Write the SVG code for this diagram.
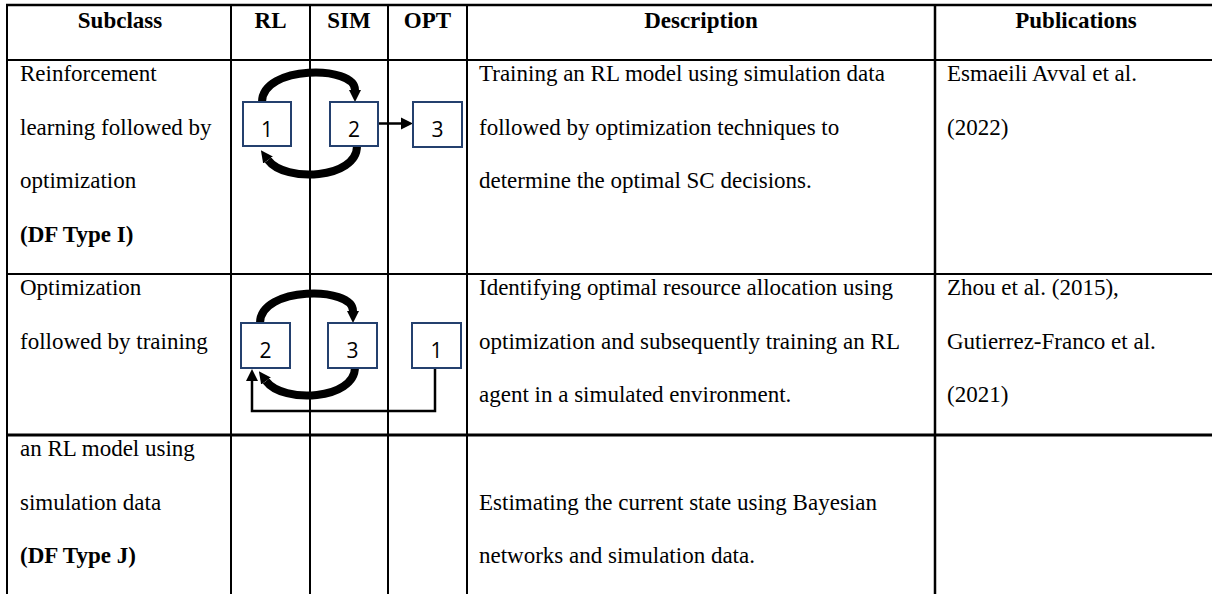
<svg xmlns="http://www.w3.org/2000/svg" width="1212" height="594" viewBox="0 0 1212 594">
<style>
.t{font-family:"Liberation Serif","Times New Roman",serif;font-size:23px;fill:#000}
.b{font-weight:bold}
.h{font-family:"Liberation Serif","Times New Roman",serif;font-size:23px;font-weight:bold;text-anchor:middle;fill:#000}
.grid{stroke:#000;stroke-width:2;fill:none}
.box{fill:#fff;stroke:#24406e;stroke-width:2}
.num{font-family:"Open Sans","Liberation Sans",sans-serif;font-size:21px;text-anchor:middle;fill:#000}
.arc{fill:none;stroke:#000;stroke-width:8}
.ln{fill:none;stroke:#000;stroke-width:2.5}
</style>
<defs>
<marker id="bigHead" viewBox="0 0 10 10" refX="0" refY="5" markerUnits="userSpaceOnUse" markerWidth="12" markerHeight="20" orient="auto">
<path d="M0,0 L10,5 L0,10 z" fill="#000"/>
</marker>
<marker id="smallHead" viewBox="0 0 10 10" refX="0" refY="5" markerUnits="userSpaceOnUse" markerWidth="12" markerHeight="13" orient="auto">
<path d="M0,0 L10,5 L0,10 z" fill="#000"/>
</marker>
</defs>
<rect width="1212" height="594" fill="#fff"/>
<g id="table-grid" class="grid">
<line x1="6" y1="5" x2="1212" y2="5" stroke-width="2.5"/>
<line x1="6" y1="60" x2="1212" y2="60"/>
<line x1="6" y1="274" x2="1212" y2="274"/>
<line x1="6" y1="435" x2="1212" y2="435" stroke-width="3"/>
<line x1="7" y1="4" x2="7" y2="594"/>
<line x1="231" y1="4" x2="231" y2="594"/>
<line x1="310" y1="4" x2="310" y2="594"/>
<line x1="388" y1="4" x2="388" y2="594"/>
<line x1="467" y1="4" x2="467" y2="594"/>
<line x1="935" y1="4" x2="935" y2="594" stroke-width="2.5"/>
</g>
<g id="header">
<text class="h" x="120" y="28">Subclass</text>
<text class="h" x="270.5" y="28">RL</text>
<text class="h" x="349" y="28">SIM</text>
<text class="h" x="427.5" y="28">OPT</text>
<text class="h" x="701" y="28">Description</text>
<text class="h" x="1076" y="28">Publications</text>
</g>
<g id="row1-text">
<text class="t" x="20" y="81">Reinforcement</text>
<text class="t" x="20" y="134.5">learning followed by</text>
<text class="t" x="20" y="188">optimization</text>
<text class="t b" x="20" y="241.5">(DF Type I)</text>
<text class="t" x="479" y="81">Training an RL model using simulation data</text>
<text class="t" x="479" y="134.5">followed by optimization techniques to</text>
<text class="t" x="479" y="188">determine the optimal SC decisions.</text>
<text class="t" x="947" y="81">Esmaeili Avval et al.</text>
<text class="t" x="947" y="134.5">(2022)</text>
</g>
<g id="row2-text">
<text class="t" x="20" y="295">Optimization</text>
<text class="t" x="20" y="348.5">followed by training</text>
<text class="t" x="479" y="295">Identifying optimal resource allocation using</text>
<text class="t" x="479" y="348.5">optimization and subsequently training an RL</text>
<text class="t" x="479" y="402">agent in a simulated environment.</text>
<text class="t" x="947" y="295">Zhou et al. (2015),</text>
<text class="t" x="947" y="348.5">Gutierrez-Franco et al.</text>
<text class="t" x="947" y="402">(2021)</text>
</g>
<g id="row3-text">
<text class="t" x="20" y="456">an RL model using</text>
<text class="t" x="20" y="509.5">simulation data</text>
<text class="t b" x="20" y="563">(DF Type J)</text>
<text class="t" x="479" y="509.5">Estimating the current state using Bayesian</text>
<text class="t" x="479" y="563">networks and simulation data.</text>
</g>
<g id="connectors">
<path class="arc" d="M262,102 C262,65 355,65 355,90" marker-end="url(#bigHead)"/>
<path class="arc" d="M357,146 C357,179 285,183 268,160" marker-end="url(#bigHead)"/>
<line class="ln" x1="379" y1="123.5" x2="401" y2="123.5" marker-end="url(#smallHead)"/>
<g transform="translate(-2,221)">
<path class="arc" d="M262,102 C262,65 355,65 355,90" marker-end="url(#bigHead)"/>
<path class="arc" d="M357,146 C357,179 285,183 268,160" marker-end="url(#bigHead)"/>
</g>
<path class="ln" d="M435,368 V411 H252 V381" marker-end="url(#smallHead)"/>
</g>
<g id="node-r1-1"><rect class="box" x="243" y="102" width="48" height="44"/><text class="num" x="267" y="137">1</text></g>
<g id="node-r1-2"><rect class="box" x="330" y="102" width="48" height="44"/><text class="num" x="354" y="137">2</text></g>
<g id="node-r1-3"><rect class="box" x="413" y="102" width="49" height="45"/><text class="num" x="437.5" y="137">3</text></g>
<g id="node-r2-2"><rect class="box" x="241" y="323" width="49" height="45"/><text class="num" x="265.5" y="358">2</text></g>
<g id="node-r2-3"><rect class="box" x="328" y="323" width="49" height="45"/><text class="num" x="352.5" y="358">3</text></g>
<g id="node-r2-1"><rect class="box" x="412" y="323" width="49" height="45"/><text class="num" x="436.5" y="358">1</text></g>
</svg>
